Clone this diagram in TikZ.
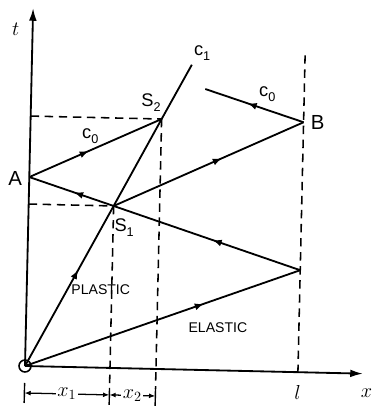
\documentclass[tikz,border=0pt]{standalone}
\usepackage{fontspec}
\setsansfont{Liberation Sans}
\usetikzlibrary{arrows.meta,decorations.markings}
\newcommand{\lsub}[2]{#1\raisebox{-0.5ex}{\fontsize{9}{9}\selectfont #2}}
\begin{document}
\begin{tikzpicture}[x=0.025cm,y=0.025cm,
  ln/.style={line width=1.3pt},
  dsh/.style={line width=1.1pt, dash pattern=on 6pt off 4pt},
  midarr/.style={postaction={decorate},decoration={markings,mark=at position #1 with {\arrow{Latex[length=6.5pt,width=5pt]}}}},
  lbl/.style={font=\sffamily\fontsize{13}{13}\selectfont, inner sep=1pt},
  blbl/.style={font=\sffamily\fontsize{14.5}{14.5}\selectfont, inner sep=1pt},
  mlbl/.style={font=\fontsize{14}{14}\selectfont, inner sep=1pt},
  small/.style={font=\sffamily\fontsize{10}{10}\selectfont, inner sep=1pt},
]
\useasboundingbox (0,0) rectangle (371,406);
\begin{scope}[shift={(25,40)}, rotate=-1.3]
\coordinate (O) at (0,0);
\coordinate (A) at (0,189);
\coordinate (S1) at (85,162);
\coordinate (S2) at (131,250);
\coordinate (E) at (160,305);
\coordinate (B) at (273,250);
\coordinate (C) at (273,102);
\coordinate (D) at (174,281);
\coordinate (Ttop) at (0,358);
\coordinate (Xend) at (338,0);
\coordinate (Ltop) at (273,317);
\coordinate (L0) at (273,0);
% axes
\draw[ln, -{Latex[length=9pt,width=5.5pt]}] (O) -- (Ttop);
\draw[ln, -{Latex[length=9pt,width=5.5pt]}] (O) -- (Xend);
\draw[line width=1.1pt] (O) circle (6);
% dashed guides
\draw[dsh] (0,250) -- (S2);
\draw[dsh] (0,162) -- (S1);
\draw[dsh] (S1) -- (85,-20);
\draw[dsh] (S2) -- (131,-20);
\draw[dsh] (Ltop) -- (L0);
% characteristic lines
\draw[ln, midarr=0.6] (O) -- (S1);
\draw[ln] (S1) -- (S2) -- (E);
\draw[ln, midarr=0.65] (O) -- (C);
\draw[ln, midarr=0.47] (C) -- (S1);
\draw[ln, midarr=0.47] (S1) -- (A);
\draw[ln, midarr=0.45] (A) -- (S2);
\draw[ln, midarr=0.57] (S1) -- (B);
\draw[ln, midarr=0.57] (B) -- (D);
% dimension
\coordinate (d0) at (0,-27);
\coordinate (d1) at (85,-27);
\coordinate (d2) at (131,-27);
\draw[line width=1pt] (0,-17) -- (0,-37) (85,-20) -- (85,-37) (131,-20) -- (131,-37);
\draw[line width=0.9pt, {Latex[length=4.5pt,width=3.5pt]}-{Latex[length=4.5pt,width=3.5pt]}] (d0) -- (d1) node[midway, fill=white, inner sep=1pt, mlbl] (x1) {$x_1$};
\draw[line width=0.9pt, {Latex[length=4.5pt,width=3.5pt]}-{Latex[length=4.5pt,width=3.5pt]}] (d1) -- (d2) node[midway, fill=white, inner sep=0.5pt, mlbl] (x2) {$x_2$};
% labels
\node[mlbl] (tl) at (-17,336) {$t$};
\node[blbl] (Al) at (-14,187) {A};
\node[lbl] (S2l) at (120,266) {\lsub{S}{2}};
\node[lbl] (S1l) at (96,141) {\lsub{S}{1}};
\node[lbl] (c1l) at (170,317) {\lsub{c}{1}};
\node[lbl] (c0a) at (60,231) {\lsub{c}{0}};
\node[lbl] (c0b) at (236,277) {\lsub{c}{0}};
\node[blbl] (Bl) at (287,250) {B};
\node[small] (pl) at (74,78) {PLASTIC};
\node[small] (el) at (192,43) {ELASTIC};
\node[mlbl] (ll) at (273,-20) {$l$};
\node[mlbl] (xl) at (342,-19) {$x$};
\end{scope}
\end{tikzpicture}
\end{document}
